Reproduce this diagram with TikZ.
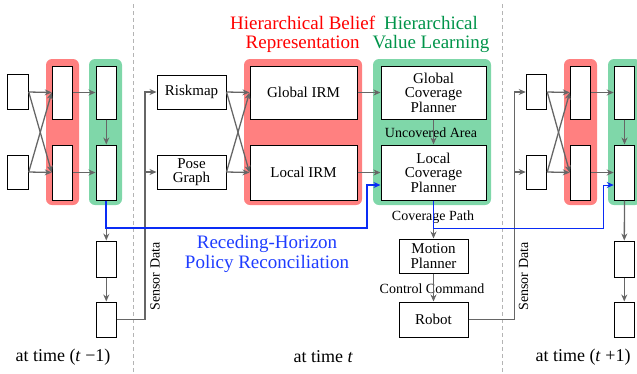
\documentclass[tikz,border=0pt]{standalone}
\usepackage{fontspec}
\setmainfont{Liberation Serif}
\usetikzlibrary{arrows.meta}
\definecolor{bgred}{HTML}{FF8080}
\definecolor{bggreen}{HTML}{7FD7A9}
\definecolor{ttlgreen}{HTML}{00944A}
\definecolor{ttlblue}{HTML}{1E3CFF}
\definecolor{lnblue}{HTML}{0A2CF5}
\definecolor{lngray}{HTML}{666666}
\definecolor{dashgray}{HTML}{B4B4B4}
\begin{document}
\begin{tikzpicture}[x=1pt,y=-1pt,
  box/.style={draw=black, line width=1pt, fill=white, inner sep=0pt, align=center,
    font=\fontsize{15}{14.5}\selectfont},
  thin/.style={box, minimum width=20.5pt},
  conn/.style={draw=lngray, line width=1.3pt, -{Stealth[length=7pt,width=6pt]}},
  bluethick/.style={draw=lnblue, line width=1.8pt, -{Stealth[length=7pt,width=6pt]}},
  bluethin/.style={draw=lnblue, line width=0.9pt, -{Stealth[length=7pt,width=6pt]}},
  redbg/.style={fill=bgred, rounded corners=6pt},
  greenbg/.style={fill=bggreen, rounded corners=6pt},
  lbl/.style={font=\fontsize{14}{14}\selectfont, inner sep=0pt},
  ttl/.style={font=\fontsize{19}{19.5}\selectfont, align=center, inner sep=0pt},
  timelbl/.style={font=\fontsize{18}{18}\selectfont, inner sep=0pt},
  sep/.style={draw=dashgray, line width=1pt, dash pattern=on 4pt off 3pt}
]
\useasboundingbox (0,0) rectangle (637,373);
\clip (0,0) rectangle (637,373);

% separators
\draw[sep] (133,4) -- (133,373);
\draw[sep] (502,4) -- (502,373);

% backgrounds
\fill[redbg] (46,59) rectangle (79,205);
\fill[greenbg] (89,59) rectangle (122,205);
\fill[redbg] (244,59) rectangle (362,205);
\fill[greenbg] (373,59) rectangle (491,205);
\fill[redbg] (564,59) rectangle (597,205);
\fill[greenbg] (608,59) rectangle (641,205);

% titles
\node[ttl, text=red] (t1) at (302.7,34.5) {Hierarchical Belief\\Representation};
\node[ttl, text=ttlgreen] (t2) at (431,34.5) {Hierarchical\\Value Learning};
\node[ttl, text=ttlblue] (t3) at (267,254) {Receding-Horizon\\Policy Reconciliation};

% ---- time t-1 ----
\node[thin, minimum height=35pt] (aI1) at (18,92) {};
\node[thin, minimum height=34pt] (aI2) at (18,172) {};
\node[thin, minimum height=53pt] (aR1) at (62.5,92.5) {};
\node[thin, minimum height=55pt] (aR2) at (62.5,172.5) {};
\node[thin, minimum height=53pt] (aG1) at (106.3,92.5) {};
\node[thin, minimum height=55pt] (aG2) at (106.3,172.5) {};
\node[thin, minimum height=36pt] (aB3) at (106.3,259) {};
\node[thin, minimum height=35pt] (aB4) at (106.3,319.5) {};

\draw[conn] (aI1.east) -- (aR1.west);
\draw[conn] (aI1.east) -- (aR2.west);
\draw[conn] (aI2.east) -- (aR1.west);
\draw[conn] (aI2.east) -- (aR2.west);
\draw[conn] (aR1.east) -- (aG1.west);
\draw[conn] (aR2.east) -- (aG2.west);
\draw[conn] (aG1.south) -- (aG2.north);
\draw[conn] (aG2.south) -- (aB3.north);
\draw[conn] (aB3.south) -- (aB4.north);

% ---- time t ----
\node[box, minimum width=69pt, minimum height=34pt] (risk) at (191.5,92) {Riskmap};
\node[box, minimum width=69pt, minimum height=34pt] (pose) at (191.5,172) {Pose\\Graph};
\node[box, minimum width=107pt, minimum height=53pt] (girm) at (303.5,92.5) {Global IRM};
\node[box, minimum width=107pt, minimum height=55pt] (lirm) at (303.5,172.5) {Local IRM};
\node[box, minimum width=105pt, minimum height=53pt] (gcp) at (433.5,92.5) {Global\\Coverage\\Planner};
\node[box, minimum width=105pt, minimum height=55pt] (lcp) at (433.5,172.5) {Local\\Coverage\\Planner};
\node[box, minimum width=69pt, minimum height=34pt] (mp) at (433.5,256) {Motion\\Planner};
\node[box, minimum width=69pt, minimum height=35pt] (robot) at (433.5,319.5) {Robot};

% sensor data from t-1
\coordinate (sLtop) at (145,92);
\coordinate (sLbot) at (145,319.5);
\draw[conn] (aB4.east) -- (sLbot) -- (sLtop) -- (risk.west);
\draw[conn] (sLtop |- pose.west) -- (pose.west);
\node[lbl, rotate=90] (sd1) at (155,276.5) {Sensor Data};

\draw[conn] (risk.east) -- (girm.west);
\draw[conn] (risk.east) -- (lirm.west);
\draw[conn] (pose.east) -- (girm.west);
\draw[conn] (pose.east) -- (lirm.west);
\draw[conn] (girm.east) -- (gcp.west);
\draw[conn] (lirm.east) -- (lcp.west);

\node[lbl] (ua) at (431,132.7) {Uncovered Area};
\draw[conn] (gcp.south) -- (lcp.north);
\node[lbl] (cp) at (433,216.7) {Coverage Path};
\draw[conn] (lcp.south) -- (mp.north);
\node[lbl] (cc) at (432,288.3) {Control Command};
\draw[conn] (mp.south) -- (robot.north);

% ---- time t+1 ----
\node[thin, minimum height=35pt] (cI1) at (536.5,92) {};
\node[thin, minimum height=34pt] (cI2) at (536.5,172) {};
\node[thin, minimum height=53pt] (cR1) at (580.5,92.5) {};
\node[thin, minimum height=55pt] (cR2) at (580.5,172.5) {};
\node[thin, minimum height=53pt] (cG1) at (624.5,92.5) {};
\node[thin, minimum height=55pt] (cG2) at (624.5,172.5) {};
\node[thin, minimum height=36pt] (cB3) at (624.3,259) {};
\node[thin, minimum height=35pt] (cB4) at (624.3,319.5) {};

\draw[conn] (cI1.east) -- (cR1.west);
\draw[conn] (cI1.east) -- (cR2.west);
\draw[conn] (cI2.east) -- (cR1.west);
\draw[conn] (cI2.east) -- (cR2.west);
\draw[conn] (cR1.east) -- (cG1.west);
\draw[conn] (cR2.east) -- (cG2.west);
\draw[conn] (cG1.south) -- (cG2.north);
\draw[conn] (cG2.south) -- (cB3.north);
\draw[conn] (cB3.south) -- (cB4.north);

% sensor data to t+1
\coordinate (sRtop) at (514.5,92);
\coordinate (sRbot) at (514.5,319.5);
\draw[conn] (robot.east) -- (sRbot) -- (sRtop) -- (cI1.west);
\draw[conn] (sRtop |- cI2.west) -- (cI2.west);
\node[lbl, rotate=90] (sd2) at (523.5,276.5) {Sensor Data};

% blue policy reconciliation
\coordinate (bL1) at (106.3,228);
\coordinate (bL2) at (367,228);
\coordinate (bL3) at (367,185);
\draw[bluethick] (aG2.south) -- (bL1) -- (bL2) -- (bL3) -- (bL3 -| lcp.west);
\coordinate (bR1) at (433.5,228);
\coordinate (bR2) at (603,228);
\coordinate (bR3) at (603,185);
\draw[bluethin] (lcp.south) -- (bR1) -- (bR2) -- (bR3) -- (bR3 -| cG2.west);

% time labels
\node[timelbl] (tm1) at (63,357) {at time (\textit{t} −1)};
\node[timelbl] (tm0) at (323.3,357) {at time \textit{t}};
\node[timelbl] (tp1) at (583,357) {at time (\textit{t} +1)};
\end{tikzpicture}
\end{document}
